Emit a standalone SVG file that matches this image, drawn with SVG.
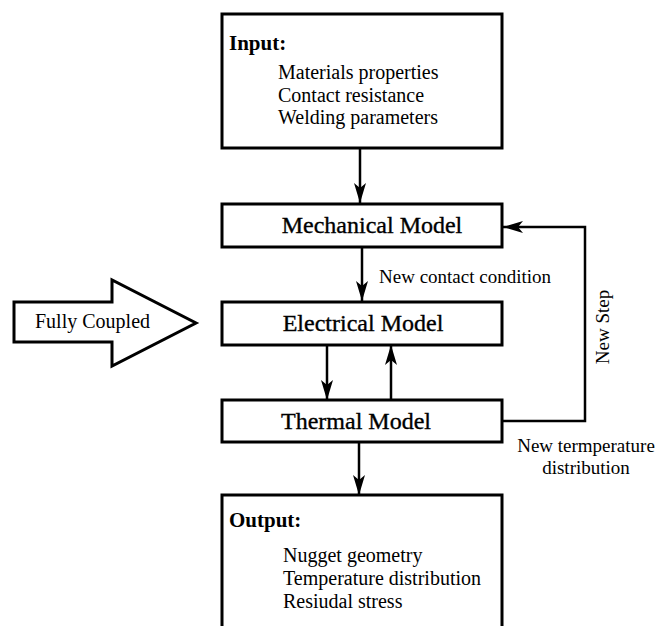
<svg xmlns="http://www.w3.org/2000/svg" width="659" height="626" viewBox="0 0 659 626">
<defs>
<marker id="ah" viewBox="0 0 20 12" refX="20" refY="6" markerWidth="20" markerHeight="12" markerUnits="userSpaceOnUse" orient="auto">
<path d="M20,6 L0,0 L5,6 L0,12 Z" fill="#000"/>
</marker>
<style>
.box{fill:#fff;stroke:#000;stroke-width:3}
.t{font-family:"Liberation Serif","Times New Roman",serif;fill:#000}
.hd{font-size:21px;font-weight:bold}
.it{font-size:20px}
.md{font-size:24px;stroke:#000;stroke-width:0.35;text-anchor:middle}
.lb{font-size:19px}
.cn{fill:none;stroke:#000;stroke-width:2.5}
</style>
</defs>
<rect width="659" height="626" fill="#fff"/>
<g id="connectors">
<line class="cn" x1="360" y1="148" x2="360" y2="203" marker-end="url(#ah)"/>
<line class="cn" x1="362" y1="247" x2="362" y2="301" marker-end="url(#ah)"/>
<line class="cn" x1="327" y1="345" x2="327" y2="400" marker-end="url(#ah)"/>
<line class="cn" x1="391" y1="400" x2="391" y2="345" marker-end="url(#ah)"/>
<line class="cn" x1="359" y1="442" x2="359" y2="495" marker-end="url(#ah)"/>
<polyline class="cn" points="502,421 585,421 585,227 503,227" marker-end="url(#ah)"/>
<text class="t lb" x="379" y="283">New contact condition</text>
<text class="t lb" transform="translate(609,327) rotate(-90)" text-anchor="middle">New Step</text>
<text class="t lb" x="586" y="452" text-anchor="middle">New termperature</text>
<text class="t lb" x="586" y="474" text-anchor="middle">distribution</text>
</g>
<g id="input">
<rect class="box" x="222" y="14" width="280" height="134"/>
<text class="t hd" x="229" y="50">Input:</text>
<text class="t it" x="278" y="79">Materials properties</text>
<text class="t it" x="278" y="102">Contact resistance</text>
<text class="t it" x="278" y="124">Welding parameters</text>
</g>
<g id="mechanical">
<rect class="box" x="222" y="204" width="280" height="43"/>
<text class="t md" x="372" y="233">Mechanical Model</text>
</g>
<g id="electrical">
<rect class="box" x="222" y="302" width="280" height="43"/>
<text class="t md" x="363" y="331">Electrical Model</text>
</g>
<g id="thermal">
<rect class="box" x="222" y="400" width="280" height="42"/>
<text class="t md" x="356" y="429">Thermal Model</text>
</g>
<g id="output">
<rect class="box" x="222" y="495" width="280" height="140"/>
<text class="t hd" x="229" y="527">Output:</text>
<text class="t it" x="283" y="562">Nugget geometry</text>
<text class="t it" x="283" y="585">Temperature distribution</text>
<text class="t it" x="283" y="608">Resiudal stress</text>
</g>
<g id="fully-coupled">
<polygon points="14,302 112,302 112,280 196,323 112,366 112,342 14,342" fill="#fff" stroke="#000" stroke-width="3"/>
<text class="t it" x="35" y="328">Fully Coupled</text>
</g>
</svg>
